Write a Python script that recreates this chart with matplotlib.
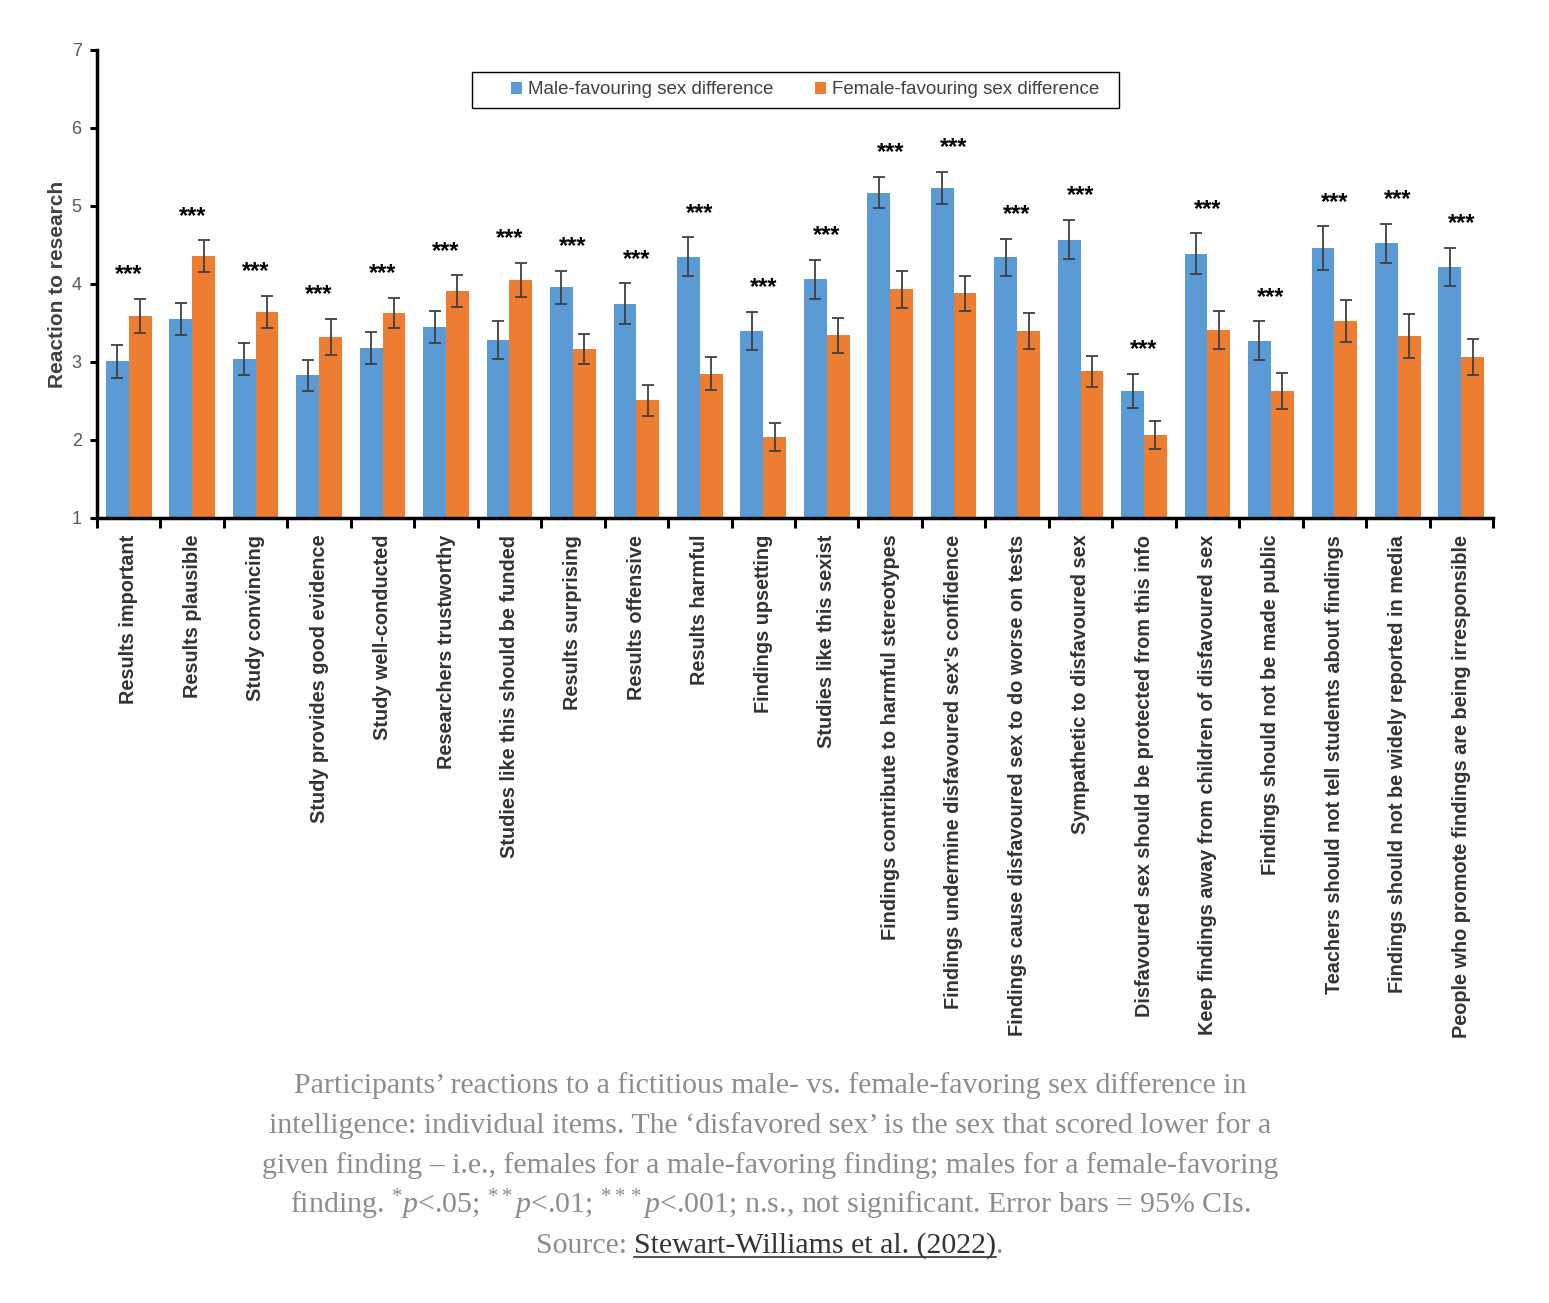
import numpy as np
import matplotlib.pyplot as plt
from matplotlib.lines import Line2D
from matplotlib.patches import Rectangle

plt.rcParams['font.family'] = ['Liberation Sans', 'DejaVu Sans']
plt.rcParams['mathtext.fontset'] = 'custom'
plt.rcParams['mathtext.rm'] = 'Liberation Serif'
plt.rcParams['mathtext.it'] = 'Liberation Serif:italic'

items = ['Results important', 'Results plausible', 'Study convincing',
         'Study provides good evidence', 'Study well-conducted',
         'Researchers trustworthy', 'Studies like this should be funded',
         'Results surprising', 'Results offensive', 'Results harmful',
         'Findings upsetting', 'Studies like this sexist',
         'Findings contribute to harmful stereotypes',
         "Findings undermine disfavoured sex's confidence",
         'Findings cause disfavoured sex to do worse on tests',
         'Sympathetic to disfavoured sex',
         'Disfavoured sex should be protected from this info',
         'Keep findings away from children of disfavoured sex',
         'Findings should not be made public',
         'Teachers should not tell students about findings',
         'Findings should not be widely reported in media',
         'People who promote findings are being irresponsible']

male = [3.01, 3.55, 3.04, 2.83, 3.18, 3.45, 3.28, 3.96, 3.75, 4.35, 3.40,
        4.06, 5.17, 5.23, 4.34, 4.57, 2.63, 4.39, 3.27, 4.46, 4.52, 4.22]
male_ci = [0.21, 0.21, 0.21, 0.20, 0.20, 0.21, 0.24, 0.21, 0.26, 0.25, 0.24,
           0.25, 0.20, 0.21, 0.24, 0.25, 0.22, 0.26, 0.25, 0.28, 0.25, 0.24]
female = [3.59, 4.36, 3.64, 3.32, 3.63, 3.91, 4.05, 3.17, 2.51, 2.85, 2.04,
          3.34, 3.93, 3.88, 3.40, 2.88, 2.07, 3.41, 2.63, 3.53, 3.33, 3.06]
female_ci = [0.22, 0.20, 0.21, 0.23, 0.19, 0.20, 0.22, 0.19, 0.20, 0.21, 0.18,
             0.23, 0.24, 0.22, 0.23, 0.20, 0.18, 0.24, 0.23, 0.27, 0.28, 0.23]
sig = ['***'] * 22

W, H = 1549, 1303
fig = plt.figure(figsize=(W / 100, H / 100), dpi=100)
ax = fig.add_axes([97 / W, 1 - 518 / H, (1493 - 97) / W, (518 - 50) / H])

x = np.arange(len(items))
bw = 0.36
err_kw = dict(ecolor='#404040', elinewidth=1.3, capsize=4, capthick=1.3)
ax.bar(x - bw / 2, np.array(male) - 1, bw, bottom=1, color='#5B9BD5',
       yerr=male_ci, error_kw=err_kw, label='Male-favouring sex difference')
ax.bar(x + bw / 2, np.array(female) - 1, bw, bottom=1, color='#ED7D31',
       yerr=female_ci, error_kw=err_kw, label='Female-favouring sex difference')

for i in range(len(items)):
    top = max(male[i] + male_ci[i], female[i] + female_ci[i])
    ax.text(x[i], top + 0.31, sig[i], ha='center', va='center',
            fontsize=17, fontweight='bold', color='black')

ax.set_xlim(-0.5, len(items) - 0.5)
ax.set_ylim(1, 7)
ax.set_yticks(range(1, 8))
ax.set_xticks(np.arange(-0.5, len(items), 1))
ax.set_xticklabels([])
ax.set_xticks(x, minor=True)
ax.set_xticklabels(items, minor=True, rotation=90, fontsize=14.3,
                   fontweight='bold', color='#333333')
ax.tick_params(axis='x', which='major', direction='out', length=7, width=2.2)
ax.tick_params(axis='x', which='minor', length=0, pad=12)
ax.tick_params(axis='y', direction='out', length=5, width=2.2,
               labelsize=13, labelcolor='#595959', pad=6)
for s in ['top', 'right']:
    ax.spines[s].set_visible(False)
for s in ['left', 'bottom']:
    ax.spines[s].set_linewidth(2.5)
ax.set_ylabel('Reaction to research', fontsize=15, fontweight='bold',
              color='#404040', labelpad=3)

leg = fig.legend(loc='center', bbox_to_anchor=(805 / W, 1 - 90 / H), ncol=2,
                 fontsize=13.5, frameon=False, handlelength=0.6,
                 handleheight=0.6, handletextpad=0.3, columnspacing=2.2,
                 borderpad=0, borderaxespad=0)
for t in leg.get_texts():
    t.set_color('#404040')
fig.add_artist(Rectangle((472 / W, 1 - 108 / H), (1119 - 472) / W, 36 / H,
                         transform=fig.transFigure, fill=False,
                         edgecolor='black', linewidth=1.0))

cap_color = '#8c8c8c'
fs = 21.5
cap_kw = dict(ha='center', va='baseline', fontsize=fs,
              family='Liberation Serif', color=cap_color)
lines = [
    'Participants’ reactions to a fictitious male- vs. female-favoring sex difference in',
    'intelligence: individual items. The ‘disfavored sex’ is the sex that scored lower for a',
    'given finding – i.e., females for a male-favoring finding; males for a female-favoring',
    r'finding. ${}^{*}\mathit{p}$<.05; ${}^{**}\mathit{p}$<.01; ${}^{***}\mathit{p}$<.001; '
    'n.s., not significant. Error bars = 95% CIs.',
]
cx = 770 / W
for k, ln in enumerate(lines):
    fig.text(cx, 1 - (1084 + 40 * k + 9) / H, ln, **cap_kw)

# last line: Source + underlined link
yb = 1 - (1244 + 9) / H
t1 = fig.text(0, yb, 'Source:', ha='left', va='baseline', fontsize=fs,
              family='Liberation Serif', color=cap_color)
t2 = fig.text(0, yb, 'Stewart-Williams et al. (2022)', ha='left', va='baseline',
              fontsize=fs, family='Liberation Serif', color='#333333')
t3 = fig.text(0, yb, '.', ha='left', va='baseline', fontsize=fs,
              family='Liberation Serif', color=cap_color)
r = fig.canvas.get_renderer()
w1 = t1.get_window_extent(r).width
w2 = t2.get_window_extent(r).width
w3 = t3.get_window_extent(r).width
gap = 7
total = w1 + gap + w2 + w3
x0 = 770 - total / 2
t1.set_x(x0 / W)
t2.set_x((x0 + w1 + gap) / W)
t3.set_x((x0 + w1 + gap + w2) / W)
uy = yb - 4 / H
fig.add_artist(Line2D([(x0 + w1 + gap) / W, (x0 + w1 + gap + w2) / W], [uy, uy],
                      transform=fig.transFigure, color='#333333', linewidth=1.2))

fig.savefig('out.png', dpi=100, facecolor='white')
